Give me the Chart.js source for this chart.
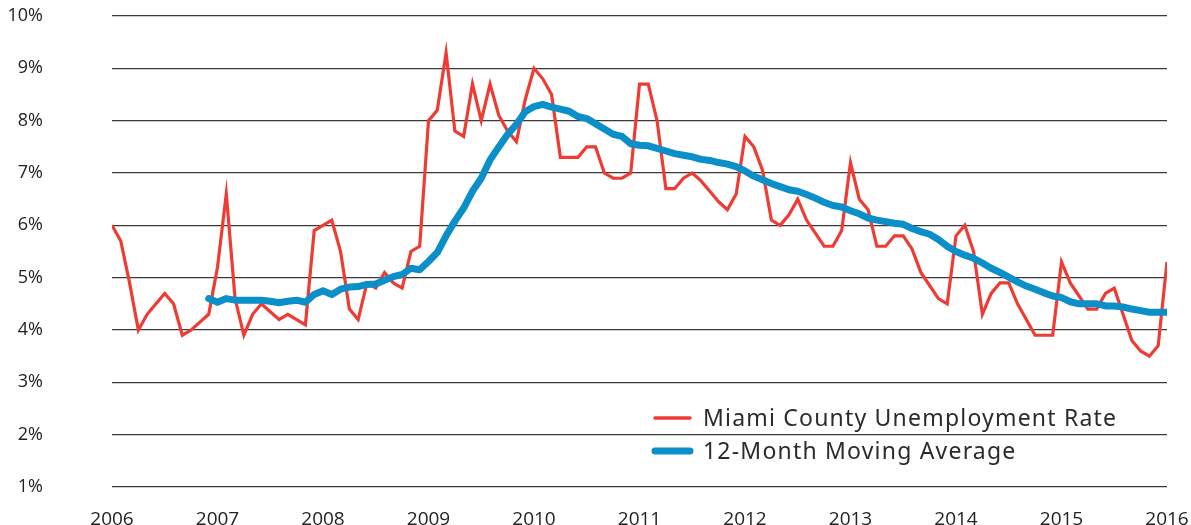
<!DOCTYPE html>
<html>
<head>
<meta charset="utf-8">
<script src="https://cdn.jsdelivr.net/npm/chart.js@4.4.1/dist/chart.umd.min.js"></script>
<style>
  html, body { margin: 0; padding: 0; background: #fff; }
  #wrap { width: 1191px; height: 525px; position: relative; }
</style>
</head>
<body>
<div id="wrap"><canvas id="chart"></canvas></div>
<script>
// year tick labels, one every 12 months
const yearLabels = ['2006', '2007', '2008', '2009', '2010', '2011', '2012', '2013', '2014', '2015', '2016'];

// monthly unemployment rate, Jan 2006 .. Jan 2016
const unemploymentRate = [
  6.0, 5.7, 4.9, 4.0, 4.3, 4.5, 4.7, 4.5, 3.9, 4.0, 4.15, 4.3,
  5.2, 6.6, 4.6, 3.9, 4.3, 4.5, 4.35, 4.2, 4.3, 4.2, 4.1, 5.9,
  6.0, 6.1, 5.5, 4.4, 4.2, 4.9, 4.8, 5.1, 4.9, 4.8, 5.5, 5.6,
  8.0, 8.2, 9.3, 7.8, 7.7, 8.7, 8.0, 8.7, 8.1, 7.8, 7.6, 8.4,
  9.0, 8.8, 8.5, 7.3, 7.3, 7.3, 7.5, 7.5, 7.0, 6.9, 6.9, 7.0,
  8.7, 8.7, 8.0, 6.7, 6.7, 6.9, 7.0, 6.85, 6.65, 6.45, 6.3, 6.6,
  7.7, 7.5, 7.05, 6.1, 6.0, 6.2, 6.5, 6.1, 5.85, 5.6, 5.6, 5.9,
  7.2, 6.5, 6.3, 5.6, 5.6, 5.8, 5.8, 5.55, 5.1, 4.85, 4.6, 4.5,
  5.8, 6.0, 5.5, 4.3, 4.7, 4.9, 4.9, 4.5, 4.2, 3.9, 3.9, 3.9,
  5.3, 4.9, 4.65, 4.4, 4.4, 4.7, 4.8, 4.3, 3.8, 3.6, 3.5, 3.7,
  5.3
];

// 12-month moving average (starts with the 12th month)
const movingAverage = [
  null, null, null, null, null, null, null, null, null, null, null, 4.60,
  4.53, 4.60, 4.57, 4.57, 4.57, 4.57, 4.55, 4.52, 4.55, 4.57, 4.53, 4.68,
  4.75, 4.68, 4.78, 4.82, 4.83, 4.87, 4.88, 4.95, 5.02, 5.06, 5.18, 5.15,
  5.31, 5.48, 5.80, 6.08, 6.33, 6.65, 6.90, 7.25, 7.50, 7.74, 7.93, 8.17,
  8.27, 8.31, 8.26, 8.22, 8.18, 8.08, 8.04, 7.94, 7.84, 7.74, 7.70, 7.56,
  7.53, 7.52, 7.47, 7.42, 7.37, 7.34, 7.31, 7.26, 7.24, 7.20, 7.17, 7.12,
  7.04, 6.94, 6.87, 6.80, 6.74, 6.68, 6.65, 6.59, 6.52, 6.44, 6.38, 6.35,
  6.28, 6.22, 6.14, 6.10, 6.07, 6.04, 6.02, 5.94, 5.88, 5.83, 5.73, 5.60,
  5.50, 5.43, 5.37, 5.28, 5.18, 5.10, 5.01, 4.92, 4.84, 4.78, 4.71, 4.65,
  4.62, 4.54, 4.50, 4.50, 4.50, 4.46, 4.46, 4.44, 4.40, 4.37, 4.34, 4.34,
  4.34
];

const seriesNames = ['Miami County Unemployment Rate', '12-Month Moving Average'];
const redColor = '#ee3b33';
const blueColor = '#0b8fc9';

// legend drawn inside the plot, bottom right
const insideLegend = {
  id: 'insideLegend',
  afterDraw(chart) {
    const ctx = chart.ctx;
    const rows = [
      { y: 418, color: redColor, width: 3.5 },
      { y: 451, color: blueColor, width: 7 }
    ];
    ctx.save();
    ctx.font = '23px "Noto Sans"';
    ctx.letterSpacing = '1.2px';
    ctx.fillStyle = '#2b2b2b';
    ctx.textBaseline = 'middle';
    rows.forEach(function(r, i) {
      ctx.beginPath();
      ctx.strokeStyle = r.color;
      ctx.lineWidth = r.width;
      ctx.lineCap = 'round';
      ctx.moveTo(655, r.y);
      ctx.lineTo(690, r.y);
      ctx.stroke();
      ctx.fillText(chart.data.datasets[i].label, 703, r.y + 1);
    });
    ctx.restore();
  }
};

const ctx = document.getElementById('chart').getContext('2d');
new Chart(ctx, {
  type: 'line',
  data: {
    datasets: [
      {
        label: seriesNames[0],
        data: unemploymentRate.map((v, i) => ({ x: i, y: v })),
        borderColor: redColor,
        borderWidth: 3.2,
        pointRadius: 0,
        tension: 0,
        order: 2
      },
      {
        label: seriesNames[1],
        data: movingAverage.map((v, i) => ({ x: i, y: v })),
        borderColor: blueColor,
        borderWidth: 7,
        borderCapStyle: 'round',
        borderJoinStyle: 'round',
        pointRadius: 0,
        tension: 0,
        spanGaps: false,
        order: 1
      }
    ]
  },
  options: {
    responsive: true,
    maintainAspectRatio: false,
    animation: false,
    layout: { padding: { top: 16, right: 24, left: 0, bottom: 0 } },
    scales: {
      x: {
        type: 'linear',
        min: 0,
        max: 120,
        grid: { display: false },
        border: { display: false },
        afterFit(scale) {
          scale.height = 38;
          scale.paddingLeft = 0;
          scale.paddingRight = 0;
        },
        afterBuildTicks(scale) {
          scale.ticks = yearLabels.map((y, i) => ({ value: i * 12 }));
        },
        ticks: {
          autoSkip: false,
          maxRotation: 0,
          padding: 13,
          color: '#222',
          font: { family: '"Open Sans"', size: 19 },
          callback: (v) => yearLabels[Math.round(v / 12)]
        }
      },
      y: {
        min: 1,
        max: 10,
        grid: { color: '#3a3a3a', lineWidth: 1.3, drawTicks: false },
        border: { display: false },
        afterFit(scale) {
          scale.width = 112;
          scale.paddingTop = 10;
          scale.paddingBottom = 10;
        },
        ticks: {
          stepSize: 1,
          padding: 69,
          color: '#222',
          font: { family: '"Open Sans"', size: 18 },
          callback: (v) => v + '%'
        }
      }
    },
    plugins: {
      legend: { display: false },
      tooltip: { enabled: false }
    }
  },
  plugins: [insideLegend]
});
</script>
</body>
</html>
